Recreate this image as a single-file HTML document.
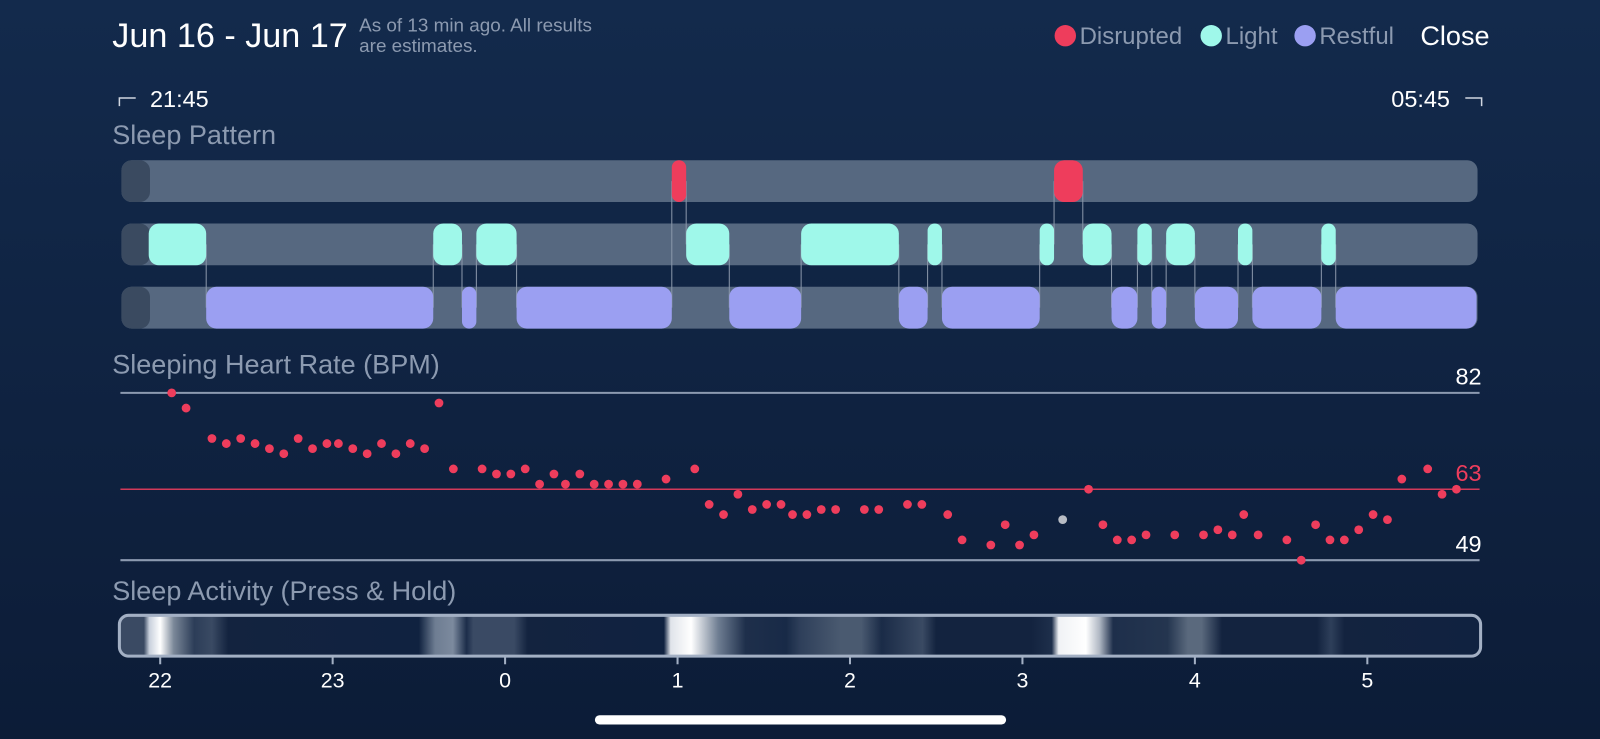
<!DOCTYPE html>
<html><head><meta charset="utf-8">
<style>
html,body{margin:0;padding:0;width:1600px;height:739px;overflow:hidden;background:#10223f;}
svg{display:block;font-family:"Liberation Sans",sans-serif;}
</style></head>
<body>
<svg id="chart" width="1600" height="739" viewBox="0 0 1600 739">
<defs>
<linearGradient id="bg" x1="0" y1="0" x2="0" y2="1">
<stop offset="0" stop-color="#132a4c"/><stop offset="1" stop-color="#0c1c37"/>
</linearGradient>
<linearGradient id="act" x1="117" y1="0" x2="1451" y2="0" gradientUnits="userSpaceOnUse">
<stop offset="0" stop-color="#3a4a63"/>
<stop offset="0.018" stop-color="#3a4a63"/>
<stop offset="0.022" stop-color="#c8d0dc"/>
<stop offset="0.03" stop-color="#ffffff"/>
<stop offset="0.04" stop-color="#7a8798"/>
<stop offset="0.055" stop-color="#2c3d58"/>
<stop offset="0.068" stop-color="#3a4a63"/>
<stop offset="0.08" stop-color="#13233f"/>
<stop offset="0.22" stop-color="#102240"/>
<stop offset="0.232" stop-color="#6e7d92"/>
<stop offset="0.245" stop-color="#7c8a9e"/>
<stop offset="0.255" stop-color="#1c2d4a"/>
<stop offset="0.26" stop-color="#3a4a64"/>
<stop offset="0.29" stop-color="#3a4a64"/>
<stop offset="0.3" stop-color="#13233f"/>
<stop offset="0.4" stop-color="#102240"/>
<stop offset="0.405" stop-color="#e0e4ea"/>
<stop offset="0.42" stop-color="#ffffff"/>
<stop offset="0.44" stop-color="#6e7d92"/>
<stop offset="0.46" stop-color="#1e2f4b"/>
<stop offset="0.49" stop-color="#182a47"/>
<stop offset="0.5" stop-color="#2e3f5a"/>
<stop offset="0.53" stop-color="#4a5a70"/>
<stop offset="0.545" stop-color="#4a5a70"/>
<stop offset="0.56" stop-color="#1a2b47"/>
<stop offset="0.59" stop-color="#3a4a63"/>
<stop offset="0.6" stop-color="#13233f"/>
<stop offset="0.67" stop-color="#13233f"/>
<stop offset="0.685" stop-color="#1e2f4b"/>
<stop offset="0.69" stop-color="#f0f2f5"/>
<stop offset="0.71" stop-color="#ffffff"/>
<stop offset="0.72" stop-color="#b0b8c4"/>
<stop offset="0.73" stop-color="#1e2f4b"/>
<stop offset="0.77" stop-color="#24354f"/>
<stop offset="0.785" stop-color="#5a697d"/>
<stop offset="0.795" stop-color="#5a697d"/>
<stop offset="0.81" stop-color="#13233f"/>
<stop offset="0.88" stop-color="#13233f"/>
<stop offset="0.89" stop-color="#2e3f5a"/>
<stop offset="0.9" stop-color="#13233f"/>
<stop offset="1" stop-color="#102240"/>
</linearGradient>
</defs>
<rect width="1600" height="739" fill="url(#bg)"/>
<g transform="scale(1.0204)">
<text x="110" y="46" font-size="33.5" fill="#ffffff">Jun 16 - Jun 17</text>
<text x="352" y="31" font-size="18.5" fill="#8c9ab0">As of 13 min ago. All results</text>
<text x="352" y="51" font-size="18.5" fill="#8c9ab0">are estimates.</text>

<g>
<circle cx="1044" cy="35" r="10.5" fill="#ee3d5c"/>
<text x="1058" y="43" font-size="23.5" fill="#8c9ab0">Disrupted</text>
<circle cx="1187" cy="35" r="10.5" fill="#9ff8ea"/>
<text x="1201" y="43" font-size="23.5" fill="#8c9ab0">Light</text>
<circle cx="1279" cy="35" r="10.5" fill="#9b9ff2"/>
<text x="1293" y="43" font-size="23.5" fill="#8c9ab0">Restful</text>
</g>
<text x="1392" y="44" font-size="26.5" fill="#ffffff">Close</text>

<path d="M117 104 V96 H133" stroke="#d0d6e0" stroke-width="1.5" fill="none"/>
<text x="147" y="105" font-size="23" fill="#ffffff">21:45</text>
<path d="M1436 96 H1452 V104" stroke="#d0d6e0" stroke-width="1.5" fill="none"/>
<text x="1421" y="105" font-size="23" fill="#ffffff" text-anchor="end">05:45</text>

<text x="110" y="141" font-size="26.5" fill="#8c9ab0">Sleep Pattern</text>
<g id="pattern"></g>

<text x="110" y="366" font-size="26.5" fill="#8c9ab0">Sleeping Heart Rate (BPM)</text>
<g id="hr"></g>

<text x="110" y="588" font-size="26.5" fill="#8c9ab0">Sleep Activity (Press &amp; Hold)</text>
<rect x="117" y="603" width="1334" height="40" rx="9" fill="url(#act)" stroke="#a3b0c4" stroke-width="3"/>
<g id="axis"></g>

<rect x="583" y="701" width="403" height="9" rx="4.5" fill="#ffffff"/>
</g>
</svg>
<script>
// ---- data ----
const hourLabels = ["22","23","0","1","2","3","4","5"];
const disruptedSegs = [[178,183],[311,321]];
const lightSegs = [[-4,16],[95,105],[110,124],[183,198],[223,257],[267,272],[306,311],[321,331],[340,345],[350,360],[375,380],[404,409]];
const restfulSegs = [[16,95],[105,110],[124,178],[198,223],[257,267],[272,306],[331,340],[345,350],[360,375],[380,404],[409,458]];
const hrMinutes = [4,9,18,23,28,33,38,43,48,53,58,62,67,72,77,82,87,92,97,102,112,117,122,127,132,137,141,146,151,156,161,166,176,186,191,196,201,206,211,216,220,225,230,235,245,250,260,265,274,279,289,294,299,304,314,323,328,333,338,343,353,363,368,373,377,382,392,397,402,407,412,417,422,427,432,441,446,451];
const hrValues = [82,79,73,72,73,72,71,70,73,71,72,72,71,70,72,70,72,71,80,67,67,66,66,67,64,66,64,66,64,64,64,64,65,67,60,58,62,59,60,60,58,58,59,59,59,59,60,60,58,53,52,56,52,54,57,63,56,53,53,54,54,54,55,54,58,54,53,49,56,53,53,55,58,57,65,67,62,63];
const hrFlagged = [314];
const hrRef = [82,63,49];

// ---- scales ----
const NS = "http://www.w3.org/2000/svg";
const xT = m => 157 + m / 60 * 169;
const yV = v => 385 + (82 - v) / (82 - 49) * 164;
function mk(tag, attrs, parent){const e=document.createElementNS(NS,tag);for(const k in attrs)e.setAttribute(k,attrs[k]);parent.appendChild(e);return e;}

// ---- sleep pattern ----
const pg = document.getElementById('pattern');
const rowsY = [157,219,281], rowH = 41;
const segsByRow = [disruptedSegs, lightSegs, restfulSegs];
const colors = ["#ee3d5c","#9ff8ea","#9b9ff2"];
const rowNames = ["disrupted","light","restful"];
rowsY.forEach((y,i)=>{
  const t = mk('rect',{x:119,y:y,width:1329,height:rowH,rx:10,fill:'#566880'},pg);
  
  
  const c = mk('rect',{x:119,y:y,width:28,height:rowH,rx:10,fill:'#3a4a60'},pg);
  
  
});
const bounds = [];
segsByRow.forEach((segs,r)=>segs.forEach(s=>{bounds.push([s[0],r]);bounds.push([s[1],r]);}));
const byT = {};
bounds.forEach(([t,r])=>{(byT[t]=byT[t]||[]).push(r);});
Object.keys(byT).forEach(t=>{
  const rs = byT[t]; if(rs.length<2) return;
  const lo=Math.min(...rs), hi=Math.max(...rs);
  const l = mk('line',{x1:xT(+t),x2:xT(+t),y1:rowsY[lo]+rowH/2,y2:rowsY[hi]+rowH/2,stroke:'#8a97aa','stroke-width':1},pg);
  
  
});
segsByRow.forEach((segs,r)=>segs.forEach(s=>{
  const x0=xT(s[0]), w=xT(s[1])-x0;
  const b = mk('rect',{x:x0,y:rowsY[r],width:w,height:rowH,rx:Math.min(10,w/2),fill:colors[r]},pg);
  
  
}));

// ---- heart rate ----
const hg = document.getElementById('hr');
hrRef.forEach((v,i)=>{
  const red = i===1;
  const l = mk('line',{x1:118,x2:1450,y1:yV(v),y2:yV(v),stroke:red?'#d23a5a':'#8c9ab0','stroke-width':red?1.5:2},hg);
  
  
  const tx = mk('text',{x:1452,y:yV(v)-8,'font-size':23,fill:red?'#ee3d5c':'#ffffff','text-anchor':'end'},hg);
  tx.textContent = v;
  
  
});
hrMinutes.forEach((m,i)=>{
  const flagged = hrFlagged.includes(m);
  const c = mk('circle',{cx:xT(m),cy:yV(hrValues[i]),r:4.3,fill:flagged?'#b8bcc4':'#ee3d5c'},hg);
  
  
});

// ---- axis ----
const ag = document.getElementById('axis');
hourLabels.forEach((h,i)=>{
  const x = xT(i*60);
  const tk = mk('line',{x1:x,x2:x,y1:643,y2:651,stroke:'#a3b0c4','stroke-width':2},ag);
  
  
  const t = mk('text',{x:x,y:674,'font-size':21,fill:'#ffffff','text-anchor':'middle'},ag);
  t.textContent = h;
  
  
});
</script>
</body></html>
